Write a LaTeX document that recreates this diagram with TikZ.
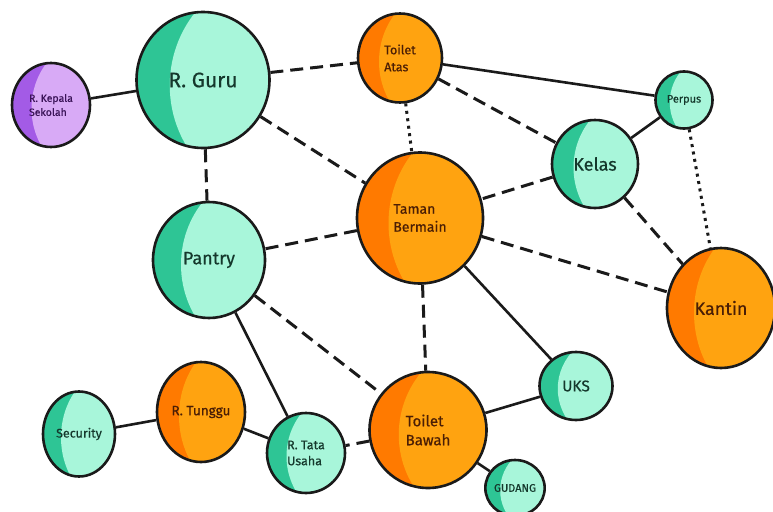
\documentclass[tikz,border=0pt]{standalone}
\usepackage{fontspec}
\setmainfont{Fira Sans}[FakeBold=0.5]
\usetikzlibrary{shapes.geometric,calc}
\definecolor{edgecol}{HTML}{1A1A1A}
\definecolor{gdark}{HTML}{2EC595}
\definecolor{glight}{HTML}{A8F6DA}
\definecolor{odark}{HTML}{FF7A00}
\definecolor{olight}{HTML}{FFA310}
\definecolor{pdark}{HTML}{A35BE6}
\definecolor{plight}{HTML}{D8AAF6}
\definecolor{gtext}{HTML}{15382C}
\definecolor{otext}{HTML}{4A1E05}
\definecolor{ptext}{HTML}{3B1458}
\tikzset{
  room/.style n args={3}{ellipse, draw=edgecol, line width=2.6pt, inner sep=0pt,
    text=#3, align=left,
    path picture={
      \fill[#1] (path picture bounding box.south west) rectangle (path picture bounding box.north east);
      \fill[#2] let \p1=(path picture bounding box.north east), \p2=(path picture bounding box.center) in
        ($(\p2)+({1.2*(\x1-\x2)},{-0.08*(\y1-\y2)})$) ellipse [x radius={1.7*(\x1-\x2)}, y radius={1.7*(\y1-\y2)}];
    }},
  green/.style={room={gdark}{glight}{gtext}},
  orange/.style={room={odark}{olight}{otext}},
  purple/.style={room={pdark}{plight}{ptext}},
  link/.style={draw=edgecol, line width=2.6pt},
  dlink/.style={link, line width=3pt, dash pattern=on 13pt off 7pt},
  olink/.style={link, line width=3pt, dash pattern=on 3pt off 4.5pt},
  fsz/.style 2 args={font=\fontsize{#1}{#2}\selectfont},
}
\begin{document}
\begin{tikzpicture}[x=1pt,y=-1pt]
\useasboundingbox (0,0) rectangle (773,511);
\node[purple, minimum width=78pt, minimum height=84pt, fsz={10.5}{14}] (kep) at (51,105) {R. Kepala\\Sekolah};
\node[green, minimum width=133pt, minimum height=136pt, fsz={21}{25}] (guru) at (203,80) {R. Guru};
\node[orange, minimum width=84pt, minimum height=89pt, fsz={12.5}{17}] (toa) at (400,58) {Toilet\\Atas};
\node[green, minimum width=57pt, minimum height=57pt, fsz={11}{13}] (perpus) at (684,100) {Perpus};
\node[green, minimum width=86pt, minimum height=88pt, fsz={18}{21}] (kelas) at (595,164) {Kelas};
\node[orange, minimum width=126pt, minimum height=131pt, fsz={14}{18}] (taman) at (420,218) {Taman\\Bermain};
\node[green, minimum width=112pt, minimum height=116pt, fsz={18}{21}] (pantry) at (209,260) {Pantry};
\node[orange, minimum width=108pt, minimum height=120pt, fsz={18}{21}] (kantin) at (721,308) {Kantin};
\node[green, minimum width=73pt, minimum height=68pt, fsz={15.5}{18}] (uks) at (576,386) {UKS};
\node[orange, minimum width=117pt, minimum height=116pt, fsz={15}{19}] (tob) at (428,430) {Toilet\\Bawah};
\node[green, minimum width=56pt, minimum height=56pt, fsz={11}{13}] (gudang) at (515,488) {GUDANG};
\node[green, minimum width=78pt, minimum height=80pt, fsz={12.5}{16}] (tata) at (306,453) {R. Tata\\Usaha};
\node[orange, minimum width=88pt, minimum height=100pt, fsz={13.5}{16}] (tunggu) at (201,412) {R. Tunggu};
\node[green, minimum width=72pt, minimum height=85pt, fsz={12.5}{15}] (security) at (79,434) {Security};

\draw[link] (kep) -- (guru);
\draw[dlink] (guru) -- (toa);
\draw[dlink] (guru) -- (taman);
\draw[dlink] (guru) -- (pantry);
\draw[link] (toa) -- (perpus);
\draw[dlink] (toa) -- (kelas);
\draw[olink] (toa) -- (taman);
\draw[link] (perpus) -- (kelas);
\draw[olink] (perpus) -- (kantin);
\draw[dlink] (kelas) -- (taman);
\draw[dlink] (kelas) -- (kantin);
\draw[dlink] (taman) -- (kantin);
\draw[dlink] (taman) -- (pantry);
\draw[link] (taman) -- (uks);
\draw[dlink] (taman) -- (tob);
\draw[dlink] (pantry) -- (tob);
\draw[link] (pantry) -- (tata);
\draw[link] (uks) -- (tob);
\draw[link] (tob) -- (gudang);
\draw[dlink] (tob) -- (tata);
\draw[link] (tata) -- (tunggu);
\draw[link] (tunggu) -- (security);
\end{tikzpicture}
\end{document}
